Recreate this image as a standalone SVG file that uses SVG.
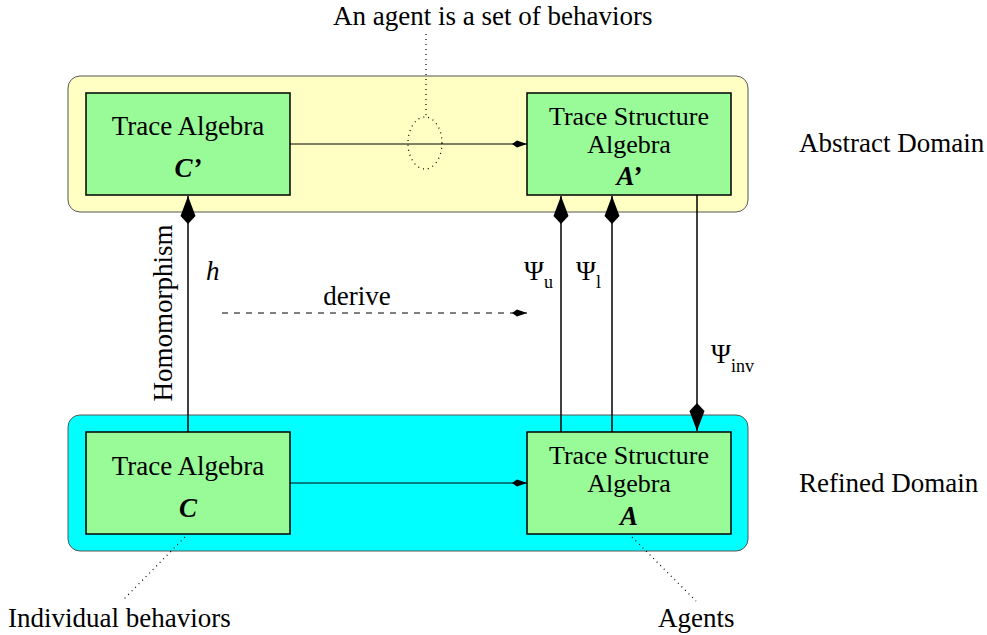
<svg xmlns="http://www.w3.org/2000/svg" width="987" height="635" viewBox="0 0 987 635" font-family="'Liberation Serif', 'Times New Roman', Times, serif">
<style>
text{font-family:'Liberation Serif','Times New Roman',Times,serif;font-size:27px;fill:#000}
.mid{text-anchor:middle}
.it{font-style:italic;font-weight:bold}
.tight{font-size:26px}
.box{fill:#98fb98;stroke:#000;stroke-width:1.5}
.dom{stroke:#555;stroke-width:1}
.ln{stroke:#000;stroke-width:1.5;fill:none}
.thin{stroke:#000;stroke-width:1;fill:none}
.dot{stroke:#000;stroke-width:1.2;fill:none;stroke-dasharray:1 4}
.sub{font-size:18px}
</style>
<defs>
<marker id="big" markerUnits="userSpaceOnUse" viewBox="-30 -10 32 20" markerWidth="32" markerHeight="20" refX="0" refY="0" orient="auto" overflow="visible">
<path d="M0,0 L-20,-7.5 L-28,0 L-20,7.5 Z" fill="#000"/>
</marker>
<marker id="small" markerUnits="userSpaceOnUse" viewBox="-18 -6 20 12" markerWidth="20" markerHeight="12" refX="0" refY="0" orient="auto" overflow="visible">
<path d="M0,0 L-10,-3.5 L-15,0 L-10,3.5 Z" fill="#000"/>
</marker>
</defs>
<g id="abstract-domain">
<rect class="dom" x="68" y="76" width="680" height="136" rx="12" fill="#ffffc4"/>
<text x="799" y="152">Abstract Domain</text>
</g>
<g id="refined-domain">
<rect class="dom" x="68" y="415" width="680" height="136" rx="12" fill="#00ffff"/>
<text x="799" y="492">Refined Domain</text>
</g>
<g id="connectors">
<line class="thin" x1="290" y1="144" x2="527" y2="144" marker-end="url(#small)"/>
<line class="thin" x1="290" y1="483" x2="527" y2="483" marker-end="url(#small)"/>
<line class="ln" x1="188" y1="432" x2="188" y2="196" marker-end="url(#big)"/>
<line class="ln" x1="561" y1="432" x2="561" y2="196" marker-end="url(#big)"/>
<line class="ln" x1="612" y1="432" x2="612" y2="196" marker-end="url(#big)"/>
<line class="ln" x1="697" y1="195" x2="697" y2="431" marker-end="url(#big)"/>
<line class="thin" x1="222" y1="313" x2="527" y2="313" stroke-dasharray="6 6" marker-end="url(#small)"/>
<ellipse class="dot" cx="425" cy="143" rx="17" ry="26"/>
<line class="dot" x1="426" y1="34" x2="426" y2="117"/>
<line class="dot" x1="185" y1="537" x2="122" y2="601"/>
<line class="dot" x1="632" y1="537" x2="696" y2="601"/>
<text class="mid" transform="translate(172,313) rotate(-90)">Homomorphism</text>
<text x="206" y="280" font-style="italic">h</text>
<text class="mid" x="357" y="305">derive</text>
<text x="524" y="280" font-size="24">Ψ<tspan class="sub" dy="8">u</tspan></text>
<text x="576" y="280" font-size="24">Ψ<tspan class="sub" dy="8">l</tspan></text>
<text x="711" y="363" font-size="24">Ψ<tspan class="sub" dy="9">inv</tspan></text>
</g>
<g id="trace-algebra-c-prime">
<rect class="box" x="86" y="93" width="204" height="102"/>
<text class="mid" x="188" y="135">Trace Algebra</text>
<text class="mid it" x="188" y="177">C’</text>
</g>
<g id="trace-structure-algebra-a-prime">
<rect class="box" x="527" y="93" width="204" height="102"/>
<text class="mid tight" x="629" y="125">Trace Structure</text>
<text class="mid tight" x="629" y="153">Algebra</text>
<text class="mid it" x="629" y="185">A’</text>
</g>
<g id="trace-algebra-c">
<rect class="box" x="86" y="432" width="204" height="102"/>
<text class="mid" x="188" y="475">Trace Algebra</text>
<text class="mid it" x="188" y="517">C</text>
</g>
<g id="trace-structure-algebra-a">
<rect class="box" x="527" y="432" width="204" height="102"/>
<text class="mid tight" x="629" y="464">Trace Structure</text>
<text class="mid tight" x="629" y="492">Algebra</text>
<text class="mid it" x="629" y="525">A</text>
</g>
<g id="labels">
<text x="333" y="25">An agent is a set of behaviors</text>
<text x="8" y="627">Individual behaviors</text>
<text x="658" y="627">Agents</text>
</g>
</svg>
